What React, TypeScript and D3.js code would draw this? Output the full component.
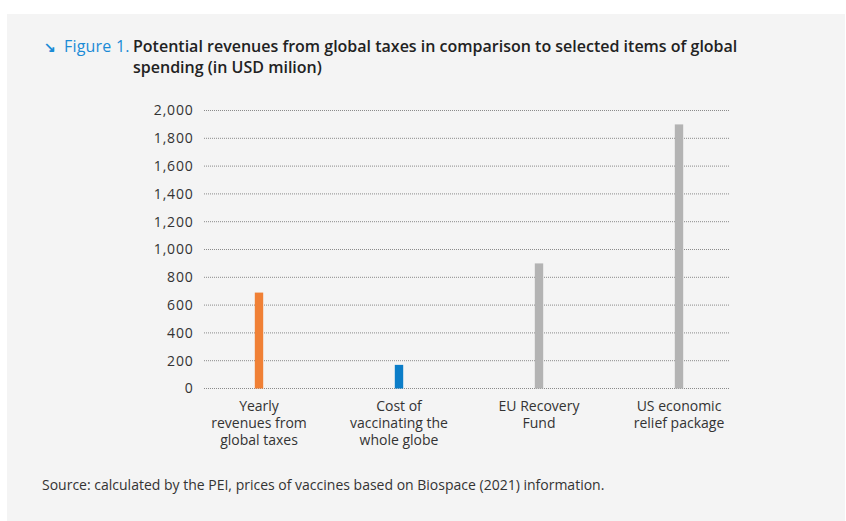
import React from "react";
import * as d3 from "d3";

const categories = [
  ["Yearly", "revenues from", "global taxes"],
  ["Cost of", "vaccinating the", "whole globe"],
  ["EU Recovery", "Fund"],
  ["US economic", "relief package"],
];
const values = [690, 170, 900, 1900];
const barColors = ["#f08035", "#0b7dc8", "#b3b3b3", "#b3b3b3"];
const yTicks = [0, 200, 400, 600, 800, 1000, 1200, 1400, 1600, 1800, 2000];
const titleLabel = "Figure 1.";
const titleLines = [
  "Potential revenues from global taxes in comparison to selected items of global",
  "spending (in USD milion)",
];
const sourceText =
  "Source: calculated by the PEI, prices of vaccines based on Biospace (2021) information.";

const W = 846;
const H = 521;
const FONT = "'Open Sans', 'Noto Sans', sans-serif";

export default function App() {
  const y = d3.scaleLinear().domain([0, 2000]).range([388.5, 110.5]);
  const x = d3
    .scaleBand<number>()
    .domain(values.map((_, i) => i))
    .range([189, 749])
    .paddingInner(0.94)
    .paddingOuter(0.47);
  const gridX0 = 204;
  const gridX1 = 730;
  const fmt = d3.format(",");

  return (
    <svg
      width={W}
      height={H}
      style={{ position: "absolute", left: 0, top: 0, display: "block" }}
    >
      <rect x={0} y={0} width={W} height={H} fill="#ffffff" />
      <rect x={7} y={14} width={W - 8} height={H - 14} fill="#f4f4f4" />

      {/* title */}
      <text
        x={44}
        y={52}
        fontFamily={FONT}
        fontSize={14}
        fill="#1b8bd6"
        fontWeight={700}
      >
        ↘
      </text>
      <text
        x={64}
        y={52}
        fontFamily={FONT}
        fontSize={16}
        fill="#1b8bd6"
        fontWeight={500}
        letterSpacing={0.2}
      >
        {titleLabel}
      </text>
      {titleLines.map((t, i) => (
        <text
          key={i}
          x={133}
          y={52 + i * 21}
          fontFamily={FONT}
          fontSize={16}
          fontWeight={600}
          fill="#222"
        >
          {t}
        </text>
      ))}

      {/* grid + y ticks */}
      {yTicks.map((t) => (
        <g key={t}>
          <line
            x1={gridX0}
            x2={gridX1}
            y1={y(t)}
            y2={y(t)}
            stroke="#8a8a8a"
            strokeWidth={1}
            strokeDasharray="1,1"
          />
          <text
            x={193.5}
            y={y(t)}
            dy="0.35em"
            textAnchor="end"
            fontFamily={FONT}
            fontSize={14}
            letterSpacing={0.8}
            fill="#333"
          >
            {fmt(t)}
          </text>
        </g>
      ))}

      {/* bars */}
      {values.map((v, i) => (
        <rect
          key={i}
          x={x(i)}
          y={y(v)}
          width={x.bandwidth()}
          height={y(0) - y(v)}
          fill={barColors[i]}
        />
      ))}

      {/* category labels */}
      {categories.map((lines, i) => (
        <text
          key={i}
          x={(x(i) as number) + x.bandwidth() / 2}
          y={411}
          textAnchor="middle"
          fontFamily={FONT}
          fontSize={14}
          fill="#333"
        >
          {lines.map((l, j) => (
            <tspan key={j} x={(x(i) as number) + x.bandwidth() / 2} dy={j === 0 ? 0 : 17}>
              {l}
            </tspan>
          ))}
        </text>
      ))}

      {/* source */}
      <text x={42} y={490} fontFamily={FONT} fontSize={14} fill="#333">
        {sourceText}
      </text>
    </svg>
  );
}
